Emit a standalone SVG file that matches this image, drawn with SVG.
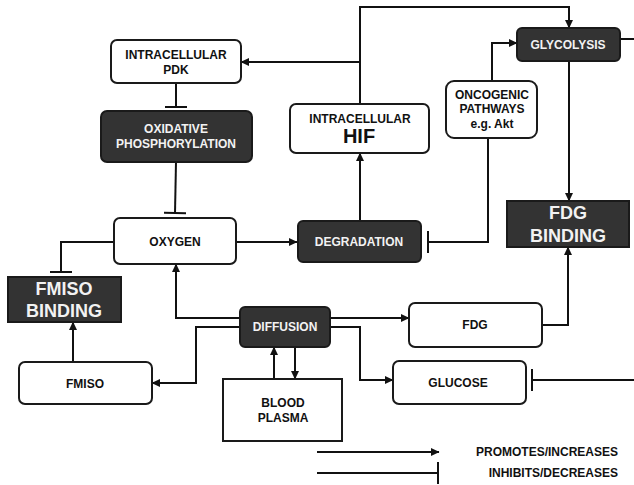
<svg xmlns="http://www.w3.org/2000/svg" width="634" height="485" viewBox="0 0 634 485">
<style>
.box{fill:#fff;stroke:#1a1a1a;stroke-width:2}
.dark{fill:#333;stroke:#1a1a1a;stroke-width:2}
.t{font-family:"Liberation Sans",Arial,sans-serif;font-weight:bold;font-size:12px;fill:#111;text-anchor:middle}
.w{fill:#f2f2f2}
.big{font-size:18px}
.c{fill:none;stroke:#111;stroke-width:2}
.a{marker-end:url(#arr)}
.i{marker-end:url(#bar)}
</style>
<defs>
<marker id="arr" markerUnits="userSpaceOnUse" markerWidth="9" markerHeight="9" refX="8" refY="4.5" orient="auto" viewBox="0 0 9 9">
<path d="M0,0.5 L8.5,4.5 L0,8.5 z" fill="#111"/>
</marker>
<marker id="bar" markerUnits="userSpaceOnUse" markerWidth="4" markerHeight="22" refX="2" refY="11" orient="auto" viewBox="0 0 4 22">
<path d="M2,0 V22" stroke="#111" stroke-width="2"/>
</marker>
</defs>
<rect width="634" height="485" fill="#fff"/>
<g id="connectors">
<path class="c a" d="M360,103 V7 H569 V28"/>
<path class="c a" d="M360,62 H241"/>
<path class="c i" d="M176,83 V107"/>
<path class="c i" d="M176,162 L175,213"/>
<path class="c a" d="M236,242 H297"/>
<path class="c a" d="M360,221 V153"/>
<path class="c a" d="M492,81 V43 H517"/>
<path class="c i" d="M488,138 V242 H428"/>
<path class="c a" d="M569,61 V201"/>
<path class="c" d="M620,39 H634"/>
<path class="c i" d="M114,242 H61 V272"/>
<path class="c a" d="M73,362 V322"/>
<path class="c a" d="M240,318 H176 V264"/>
<path class="c a" d="M240,327 H196 V383 H152"/>
<path class="c a" d="M274,379 V347"/>
<path class="c a" d="M295,347 V379"/>
<path class="c a" d="M330,318 H409"/>
<path class="c a" d="M542,325 H568 V247"/>
<path class="c a" d="M330,327 H360 V380 H393"/>
<path class="c i" d="M634,380 H532"/>
</g>
<g id="pdk">
<rect class="box" x="111" y="40" width="130" height="43" rx="6"/>
<text class="t" x="176" y="59">INTRACELLULAR</text>
<text class="t" x="176" y="74">PDK</text>
</g>
<g id="oxphos">
<rect class="dark" x="101" y="111" width="151" height="51" rx="6"/>
<text class="t w" x="176" y="133">OXIDATIVE</text>
<text class="t w" x="176" y="148">PHOSPHORYLATION</text>
</g>
<g id="hif">
<rect class="box" x="290" y="104" width="139" height="49" rx="6"/>
<text class="t" x="360" y="123">INTRACELLULAR</text>
<text class="t" x="359" y="143" style="font-size:20px">HIF</text>
</g>
<g id="oncogenic">
<rect class="box" x="446" y="81" width="91" height="57" rx="8"/>
<text class="t" x="492" y="99">ONCOGENIC</text>
<text class="t" x="492" y="113">PATHWAYS</text>
<text class="t" x="492" y="128">e.g. Akt</text>
</g>
<g id="glycolysis">
<rect class="dark" x="517" y="28" width="103" height="33" rx="5"/>
<text class="t w" x="568" y="49">GLYCOLYSIS</text>
</g>
<g id="oxygen">
<rect class="box" x="114" y="218" width="122" height="46" rx="6"/>
<text class="t" x="175" y="246">OXYGEN</text>
</g>
<g id="degradation">
<rect class="dark" x="298" y="221" width="123" height="41" rx="5"/>
<text class="t w" x="359" y="246">DEGRADATION</text>
</g>
<g id="fdg-binding">
<rect class="dark" x="507" y="201" width="122" height="46"/>
<text class="t w big" x="568" y="219">FDG</text>
<text class="t w big" x="568" y="242">BINDING</text>
</g>
<g id="fmiso-binding">
<rect class="dark" x="8" y="277" width="113" height="45"/>
<text class="t w big" x="64" y="295">FMISO</text>
<text class="t w big" x="64" y="317">BINDING</text>
</g>
<g id="diffusion">
<rect class="dark" x="240" y="307" width="90" height="40" rx="5"/>
<text class="t w" x="285" y="331">DIFFUSION</text>
</g>
<g id="fmiso">
<rect class="box" x="19" y="362" width="133" height="42" rx="6"/>
<text class="t" x="85" y="388">FMISO</text>
</g>
<g id="blood-plasma">
<rect class="box" x="223" y="379" width="119" height="62"/>
<text class="t" x="283" y="407">BLOOD</text>
<text class="t" x="283" y="422">PLASMA</text>
</g>
<g id="fdg">
<rect class="box" x="409" y="303" width="133" height="44" rx="6"/>
<text class="t" x="475" y="329">FDG</text>
</g>
<g id="glucose">
<rect class="box" x="393" y="361" width="133" height="43" rx="6"/>
<text class="t" x="458" y="387">GLUCOSE</text>
</g>
<g id="legend">
<path class="c a" d="M317,452 H439"/>
<path class="c i" d="M317,473 H438"/>
<text class="t" x="618" y="456" style="text-anchor:end">PROMOTES/INCREASES</text>
<text class="t" x="618" y="477" style="text-anchor:end">INHIBITS/DECREASES</text>
</g>
</svg>
